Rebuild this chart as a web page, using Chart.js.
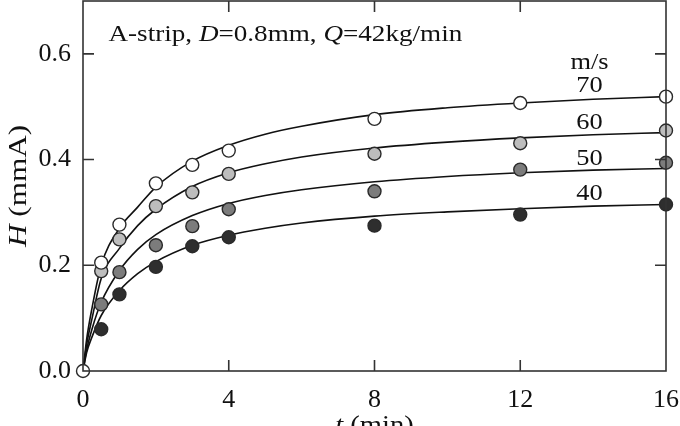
<!DOCTYPE html>
<html>
<head>
<meta charset="utf-8">
<script src="https://cdn.jsdelivr.net/npm/chart.js@4.4.1/dist/chart.umd.min.js"></script>
<style>
html,body{margin:0;padding:0;background:#fff;}
#wrap{width:680px;height:426px;position:relative;}
</style>
</head>
<body>
<div id="wrap"><canvas id="c" width="680" height="426"></canvas></div>
<script>
// ---- data ----
const tMeasured = [0.5, 1, 2, 3, 4, 8, 12, 16];
const h70 = [0.205, 0.277, 0.355, 0.390, 0.417, 0.477, 0.507, 0.519];
const h60 = [0.189, 0.249, 0.312, 0.338, 0.373, 0.411, 0.431, 0.455];
const h50 = [0.126, 0.187, 0.238, 0.274, 0.306, 0.340, 0.381, 0.394];
const h40 = [0.079, 0.145, 0.197, 0.236, 0.253, 0.275, 0.296, 0.315];
const originT = [0];
const originH = [0];

const tCurve = [0, 0.1, 0.25, 0.5, 1, 1.5, 2, 3, 4, 5, 6, 8, 10, 12, 14, 16];
const c70 = [0, 0.06, 0.12, 0.20, 0.27, 0.31, 0.348, 0.397, 0.427, 0.448, 0.463, 0.485, 0.498, 0.507, 0.514, 0.519];
const c60 = [0, 0.05, 0.10, 0.175, 0.232, 0.275, 0.306, 0.349, 0.375, 0.392, 0.405, 0.422, 0.433, 0.441, 0.447, 0.451];
const c50 = [0, 0.04, 0.08, 0.13, 0.19, 0.23, 0.258, 0.294, 0.317, 0.332, 0.343, 0.358, 0.368, 0.375, 0.380, 0.383];
const c40 = [0, 0.035, 0.065, 0.105, 0.152, 0.184, 0.207, 0.238, 0.257, 0.270, 0.280, 0.293, 0.301, 0.307, 0.312, 0.315];

const speeds = ["70", "60", "50", "40"];
const unitLabel = "m/s";
const xTicks = [0, 4, 8, 12, 16];
const yTicks = [0, 0.2, 0.4, 0.6];
const yTickLabels = ["0.0", "0.2", "0.4", "0.6"];

const FONT = "'Liberation Serif','Times New Roman',serif";

// scatter controller that does not reserve space for marker overflow
let chartType = 'scatter';
try {
  const Base = Chart.registry.getController('scatter');
  class ScatterNoPad extends Base { getMaxOverflow(){ return 0; } }
  ScatterNoPad.id = 'scatterNoPad';
  ScatterNoPad.defaults = Base.defaults;
  ScatterNoPad.overrides = Base.overrides;
  Chart.register(ScatterNoPad);
  chartType = 'scatterNoPad';
} catch (e) { chartType = 'scatter'; }

function pts(xs, ys){ return xs.map((x,i)=>({x:x, y:ys[i]})); }

const pointStyle = (vals, fill, order) => ({
  data: pts(tMeasured, vals), showLine:false, pointRadius:6.5, pointHoverRadius:6.5,
  pointBackgroundColor:fill, pointBorderColor:'#2a2a2a', pointBorderWidth:1.4, order:order, clip:false
});
const curveStyle = (vals) => ({
  data: pts(tCurve, vals), showLine:true, pointRadius:0, borderColor:'#111', borderWidth:1.6,
  cubicInterpolationMode:'monotone', fill:false, order:10
});

const datasets = [
  curveStyle(c70), curveStyle(c60), curveStyle(c50), curveStyle(c40),
  pointStyle(h40, '#2e2e2e', 4),
  pointStyle(h50, '#7c7c7c', 3),
  pointStyle(h60, '#bdbdbd', 2),
  pointStyle(h70, '#ffffff', 1),
  {data: pts(originT, originH), showLine:false, pointRadius:6.5, pointBackgroundColor:'#fff',
   pointBorderColor:'#2a2a2a', pointBorderWidth:1.4, order:0, clip:false}
];

function drawRich(ctx, parts, x, y, size, sx){
  ctx.save();
  ctx.translate(x, y);
  ctx.scale(sx, 1);
  let cx = 0;
  for (const p of parts){
    ctx.font = (p.i ? 'italic ' : '') + size + 'px ' + FONT;
    ctx.fillText(p.t, cx, 0);
    cx += ctx.measureText(p.t).width;
  }
  ctx.restore();
}
function richWidth(ctx, parts, size){
  let w=0; for(const p of parts){ ctx.font=(p.i?'italic ':'')+size+'px '+FONT; w+=ctx.measureText(p.t).width;} return w;
}

const decor = {
  id:'decor',
  afterDatasetsDraw(chart){
    const {ctx, chartArea:a, scales:{x, y}} = chart;
    ctx.save();
    // frame
    ctx.strokeStyle = '#333'; ctx.lineWidth = 1.6;
    ctx.strokeRect(a.left, a.top, a.right-a.left, a.bottom-a.top);
    // inward ticks
    const tl = 11;
    ctx.beginPath();
    xTicks.forEach(v=>{
      const px = x.getPixelForValue(v);
      if (px <= a.left+1 || px >= a.right-1) return;
      ctx.moveTo(px, a.bottom); ctx.lineTo(px, a.bottom-tl);
      ctx.moveTo(px, a.top); ctx.lineTo(px, a.top+tl);
    });
    yTicks.forEach(v=>{
      const py = y.getPixelForValue(v);
      if (py >= a.bottom-1) return;
      ctx.moveTo(a.left, py); ctx.lineTo(a.left+tl, py);
      ctx.moveTo(a.right, py); ctx.lineTo(a.right-tl, py);
    });
    ctx.stroke();
    ctx.fillStyle = '#111';
    ctx.textBaseline = 'alphabetic';
    // header text
    const header = [{t:'A-strip, ',i:false},{t:'D',i:true},{t:'=0.8mm, ',i:false},{t:'Q',i:true},{t:'=42kg/min',i:false}];
    drawRich(ctx, header, x.getPixelForValue(0.7), y.getPixelForValue(0.625), 24, 1.13);
    // series labels
    ctx.textAlign = 'center';
    ctx.font = '24px ' + FONT;
    const labelY = [0.54, 0.47, 0.402, 0.336];
    const lx = x.getPixelForValue(13.9);
    ctx.textBaseline = 'middle';
    speeds.forEach((s,i)=>{ ctx.save(); ctx.translate(lx, y.getPixelForValue(labelY[i])); ctx.scale(1.1,1); ctx.fillText(s,0,0); ctx.restore(); });
    ctx.save(); ctx.translate(lx, y.getPixelForValue(0.583)); ctx.scale(1.1,1); ctx.fillText(unitLabel,0,0); ctx.restore();
    // axis titles
    ctx.textAlign = 'left';
    ctx.textBaseline = 'alphabetic';
    const xt = [{t:'t',i:true},{t:' (min)',i:false}];
    const wx = richWidth(ctx, xt, 26)*1.1;
    drawRich(ctx, xt, x.getPixelForValue(8) - wx/2, 433, 26, 1.1);
    const yt = [{t:'H',i:true},{t:' (mmA)',i:false}];
    const wy = richWidth(ctx, yt, 26)*1.2;
    ctx.save();
    ctx.translate(26, (a.top+a.bottom)/2 + wy/2);
    ctx.rotate(-Math.PI/2);
    drawRich(ctx, yt, 0, 0, 26, 1.2);
    ctx.restore();
    ctx.restore();
  }
};

new Chart(document.getElementById('c'), {
  type: chartType,
  data:{datasets},
  options:{
    responsive:false, animation:false,
    layout:{padding:{top:1, right:14, left:0, bottom:0}},
    plugins:{legend:{display:false}, tooltip:{enabled:false}},
    scales:{
      x:{type:'linear', position:'bottom', min:0, max:16,
        afterBuildTicks:s=>{ s.ticks = xTicks.map(v=>({value:v})); },
        afterFit:s=>{ s.height = 55; s.paddingLeft = 0; s.paddingRight = 0; },
        grid:{display:false, drawTicks:false}, border:{display:false},
        ticks:{font:{family:FONT, size:26}, color:'#111', padding:14, maxRotation:0, autoSkip:false,
          callback:v=>String(v)}
      },
      y:{type:'linear', position:'left', min:0, max:0.7,
        afterBuildTicks:s=>{ s.ticks = yTicks.map(v=>({value:v})); },
        afterFit:s=>{ s.width = 83; s.paddingTop = 0; s.paddingBottom = 0; },
        grid:{display:false, drawTicks:false}, border:{display:false},
        ticks:{font:{family:FONT, size:26}, color:'#111', padding:12, autoSkip:false,
          callback:v=>yTickLabels[yTicks.findIndex(t=>Math.abs(t-v)<1e-9)]}
      }
    }
  },
  plugins:[decor]
});
</script>
</body>
</html>
